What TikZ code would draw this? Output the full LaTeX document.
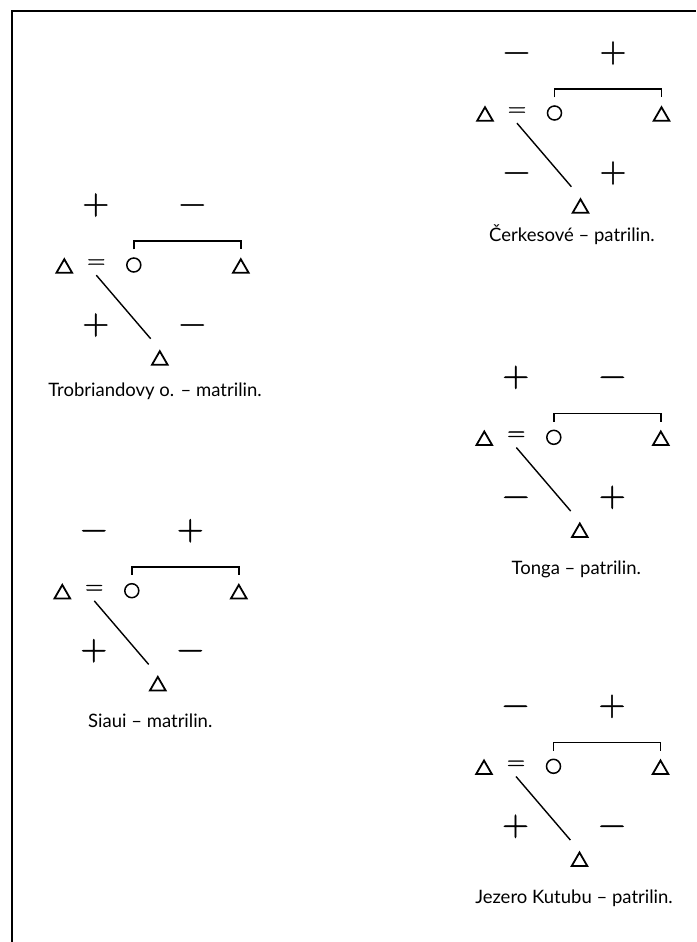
\documentclass[tikz,border=0pt]{standalone}
\usepackage{fontspec}
\usepackage{tikz}
\usetikzlibrary{shapes.geometric, positioning}
\newfontfamily\capfont{Lato}
\newfontfamily\signfont[FakeBold=1.2]{Latin Modern Roman}

\begin{document}
\begin{tikzpicture}[
    x=1pt, y=-1pt,
    male/.style={regular polygon, regular polygon sides=3, draw, line width=1.8pt, minimum size=18pt, inner sep=0pt, yshift=-2.2pt},
    female/.style={circle, draw, line width=1.5pt, minimum size=14pt, inner sep=0pt},
    signnode/.style={font=\signfont\fontsize{37}{37}\selectfont, inner sep=0pt, text height=18.5pt, text depth=0pt},
    marriage/.style={font=\signfont\fontsize{25}{25}\selectfont, inner sep=0pt, text height=12.5pt, text depth=0pt, minimum height=26pt},
    capnode/.style={font=\capfont\fontsize{18.5}{22}\selectfont, anchor=base},
    link/.style={line width=1.6pt},
    descent/.style={line width=1.4pt, shorten >=14pt}
]
    \useasboundingbox (0,0) rectangle (696,942);
    \draw[line width=1.2pt] (12,942) -- (12,11) -- (696,11);

    % Trobriandovy o.
    \begin{scope}[shift={(64.3,266)}]
        \node[male] (tro-husb) at (0,0) {};
        \node[marriage] (tro-eq) at (32,-4) {=};
        \node[female] (tro-wife) at (69.5,-1) {};
        \node[male] (tro-bro) at (176.5,0) {};
        \node[male] (tro-son) at (95.5,92) {};
        \node[signnode] (tro-s1) at (31.5,-61) {+};
        \node[signnode] (tro-s2) at (128,-61) {−};
        \node[signnode] (tro-s3) at (31.5,59) {+};
        \node[signnode] (tro-s4) at (128,59) {−};
        \node[capnode] (tro-cap) at (90.7,130) {Trobriandovy o. – matrilin.};
    \end{scope}
    \draw[link] ([yshift=8pt]tro-wife.north) -- ++(0,-8) -| ([yshift=8pt]tro-bro.north);
    \draw[descent] (tro-eq.south) -- (tro-son.north);

    % Siaui
    \begin{scope}[shift={(62.3,591.7)}]
        \node[male] (sia-husb) at (0,0) {};
        \node[marriage] (sia-eq) at (32,-4) {=};
        \node[female] (sia-wife) at (69.5,-1) {};
        \node[male] (sia-bro) at (176.5,0) {};
        \node[male] (sia-son) at (95.5,92) {};
        \node[signnode] (sia-s1) at (31.5,-61) {−};
        \node[signnode] (sia-s2) at (128,-61) {+};
        \node[signnode] (sia-s3) at (31.5,59) {+};
        \node[signnode] (sia-s4) at (128,59) {−};
        \node[capnode] (sia-cap) at (88,136) {Siaui – matrilin.};
    \end{scope}
    \draw[link] ([yshift=8pt]sia-wife.north) -- ++(0,-8) -| ([yshift=8pt]sia-bro.north);
    \draw[descent] (sia-eq.south) -- (sia-son.north);

    % Cerkesove
    \begin{scope}[shift={(485,114)}]
        \node[male] (cer-husb) at (0,0) {};
        \node[marriage] (cer-eq) at (32,-4) {=};
        \node[female] (cer-wife) at (69.5,-1) {};
        \node[male] (cer-bro) at (176.5,0) {};
        \node[male] (cer-son) at (95.5,92) {};
        \node[signnode] (cer-s1) at (31.5,-61) {−};
        \node[signnode] (cer-s2) at (128,-61) {+};
        \node[signnode] (cer-s3) at (31.5,59) {−};
        \node[signnode] (cer-s4) at (128,59) {+};
        \node[capnode] (cer-cap) at (87,127) {Čerkesové – patrilin.};
    \end{scope}
    \draw[link] ([yshift=8pt]cer-wife.north) -- ++(0,-8) -| ([yshift=8pt]cer-bro.north);
    \draw[descent] (cer-eq.south) -- (cer-son.north);

    % Tonga
    \begin{scope}[shift={(484.3,438.3)}]
        \node[male] (ton-husb) at (0,0) {};
        \node[marriage] (ton-eq) at (32,-4) {=};
        \node[female] (ton-wife) at (69.5,-1) {};
        \node[male] (ton-bro) at (176.5,0) {};
        \node[male] (ton-son) at (95.5,92) {};
        \node[signnode] (ton-s1) at (31.5,-61) {+};
        \node[signnode] (ton-s2) at (128,-61) {−};
        \node[signnode] (ton-s3) at (31.5,59) {−};
        \node[signnode] (ton-s4) at (128,59) {+};
        \node[capnode] (ton-cap) at (92,136) {Tonga – patrilin.};
    \end{scope}
    \draw[link] ([yshift=8pt]ton-wife.north) -- ++(0,-8) -| ([yshift=8pt]ton-bro.north);
    \draw[descent] (ton-eq.south) -- (ton-son.north);

    % Jezero Kutubu
    \begin{scope}[shift={(484,767.3)}]
        \node[male] (jez-husb) at (0,0) {};
        \node[marriage] (jez-eq) at (32,-4) {=};
        \node[female] (jez-wife) at (69.5,-1) {};
        \node[male] (jez-bro) at (176.5,0) {};
        \node[male] (jez-son) at (95.5,92) {};
        \node[signnode] (jez-s1) at (31.5,-61) {−};
        \node[signnode] (jez-s2) at (128,-61) {+};
        \node[signnode] (jez-s3) at (31.5,59) {+};
        \node[signnode] (jez-s4) at (128,59) {−};
        \node[capnode] (jez-cap) at (90,136) {Jezero Kutubu – patrilin.};
    \end{scope}
    \draw[link] ([yshift=8pt]jez-wife.north) -- ++(0,-8) -| ([yshift=8pt]jez-bro.north);
    \draw[descent] (jez-eq.south) -- (jez-son.north);
\end{tikzpicture}
\end{document}
